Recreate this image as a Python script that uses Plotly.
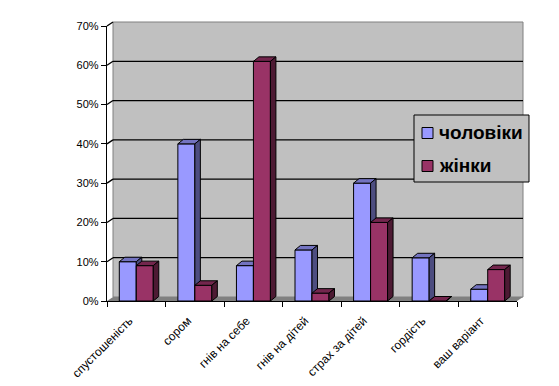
import plotly.graph_objects as go

categories = ["спустошеність", "сором", "гнів на себе", "гнів на дітей",
              "страх за дітей", "гордість", "ваш варіант"]
men = [0.10, 0.40, 0.09, 0.13, 0.30, 0.11, 0.03]
women = [0.09, 0.04, 0.61, 0.02, 0.20, 0.00, 0.08]
series_names = ["чоловіки", "жінки"]
y_ticks = [0.0, 0.1, 0.2, 0.3, 0.4, 0.5, 0.6, 0.7]

BLUE, BLUE_TOP, BLUE_SIDE = "#9999FF", "#7373C0", "#4D4D80"
RED, RED_TOP, RED_SIDE = "#993366", "#73264D", "#4D1A33"
WALL, FLOOR = "#C0C0C0", "#808080"

PAGE_OFF = 8                    # default body margin of the html page
W, H = 559 - PAGE_OFF, 386 - PAGE_OFF
L, R, T, B = 107 - PAGE_OFF, 42, 26 - PAGE_OFF, 85
PW, PH = W - L - R, H - T - B
YMAX = 0.7
N = len(categories)
bw = 0.29                       # bar width in category units
dxu = 5.5 / (PW / N)            # bar depth (x units)
dyu = 4.5 * YMAX / PH           # bar depth (y units)
wdx, wdy = 6 / PW, 4 / PH       # wall offset in paper units


def px(sx):   # screen x -> paper x
    return (sx - 107) / PW


def py(sy):   # screen y -> paper y
    return (301 - sy) / PH


def faces(vals, left_off):
    top_x, top_y, side_x, side_y = [], [], [], []
    for i, v in enumerate(vals):
        x0 = i + left_off
        x1 = x0 + bw
        top_x += [x0, x1, x1 + dxu, x0 + dxu, x0, None]
        top_y += [v, v, v + dyu, v + dyu, v, None]
        side_x += [x1, x1 + dxu, x1 + dxu, x1, x1, None]
        side_y += [0, dyu, v + dyu, v, 0, None]
    return top_x, top_y, side_x, side_y


fig = go.Figure()
fig.add_trace(go.Bar(x=categories, y=men, name=series_names[0], offset=-bw, width=bw,
                     marker=dict(color=BLUE, line=dict(color="black", width=1)),
                     xaxis="x", yaxis="y"))
tx, ty, sx, sy = faces(men, -bw)
for xs, ys, c in [(tx, ty, BLUE_TOP), (sx, sy, BLUE_SIDE)]:
    fig.add_trace(go.Scatter(x=xs, y=ys, fill="toself", fillcolor=c, mode="lines",
                             line=dict(color="black", width=1), showlegend=False,
                             hoverinfo="skip", xaxis="x2", yaxis="y2"))
fig.add_trace(go.Bar(x=list(range(N)), y=women, name=series_names[1], offset=0, width=bw,
                     marker=dict(color=RED, line=dict(color="black", width=1)),
                     xaxis="x3", yaxis="y3"))
tx, ty, sx, sy = faces(women, 0)
for xs, ys, c in [(tx, ty, RED_TOP), (sx, sy, RED_SIDE)]:
    fig.add_trace(go.Scatter(x=xs, y=ys, fill="toself", fillcolor=c, mode="lines",
                             line=dict(color="black", width=1), showlegend=False,
                             hoverinfo="skip", xaxis="x3", yaxis="y3"))

shapes = []
# back wall
shapes.append(dict(type="rect", xref="paper", yref="paper", x0=wdx, x1=1 + wdx,
                   y0=wdy, y1=1 + wdy, fillcolor=WALL, line=dict(color=FLOOR, width=1),
                   layer="below"))
# floor
shapes.append(dict(type="path", xref="paper", yref="paper",
                   path=f"M0,0 L1,0 L{1 + wdx},{wdy} L{wdx},{wdy} Z",
                   fillcolor=FLOOR, line=dict(width=0), layer="below"))
# gridlines on back wall + connectors on side wall
for v in y_ticks[1:-1]:
    yp = v / YMAX
    shapes.append(dict(type="line", xref="paper", yref="paper", x0=wdx, x1=1 + wdx,
                       y0=yp + wdy, y1=yp + wdy, line=dict(color="black", width=1.3),
                       layer="below"))
    shapes.append(dict(type="line", xref="paper", yref="paper", x0=0, x1=wdx,
                       y0=yp, y1=yp + wdy, line=dict(color="black", width=1.3),
                       layer="below"))
shapes.append(dict(type="line", xref="paper", yref="paper", x0=0, x1=wdx,
                   y0=1, y1=1 + wdy, line=dict(color="black", width=1.3), layer="below"))

# manual legend (box, swatches)
shapes.append(dict(type="rect", xref="paper", yref="paper", x0=px(414), x1=px(529),
                   y0=py(182), y1=py(115), fillcolor=WALL,
                   line=dict(color="black", width=1), layer="above"))
legend_rows = [(133, BLUE), (166, RED)]
annotations = []
for (cy, col), name in zip(legend_rows, series_names):
    shapes.append(dict(type="rect", xref="paper", yref="paper", x0=px(422), x1=px(433),
                       y0=py(cy + 5.5), y1=py(cy - 5.5), fillcolor=col,
                       line=dict(color="black", width=1), layer="above"))
    annotations.append(dict(xref="paper", yref="paper", x=px(437), y=py(cy),
                            xanchor="left", yanchor="middle", showarrow=False, text=name,
                            font=dict(family="Liberation Sans, Arial, sans-serif", size=19,
                                      color="black", weight="bold")))

font = dict(family="Liberation Sans, Arial, sans-serif", size=11, color="black")
xfont = dict(family="Liberation Sans, Arial, sans-serif", size=12, color="black")
fig.update_layout(
    width=W, height=H, margin=dict(l=L, r=R, t=T, b=B, autoexpand=False),
    paper_bgcolor="white", plot_bgcolor="rgba(0,0,0,0)",
    barmode="overlay", font=font, shapes=shapes, annotations=annotations,
    showlegend=False,
    xaxis=dict(type="category", categoryorder="array", categoryarray=categories,
               range=[-0.5, N - 0.5], showline=True, linecolor="black", linewidth=1.3,
               ticks="outside", tickson="boundaries", ticklen=5, tickcolor="black",
               tickwidth=1.3, tickangle=-45, showgrid=False, tickfont=xfont,
               ticklabelstandoff=7, ticklabelshift=-7, fixedrange=True),
    yaxis=dict(range=[0, YMAX], tickvals=y_ticks, tickformat=".0%", showline=True,
               linecolor="black", linewidth=1.3, ticks="outside", ticklen=5,
               tickcolor="black", tickwidth=1.3, showgrid=False, zeroline=False,
               tickfont=font, fixedrange=True),
    xaxis2=dict(overlaying="x", range=[-0.5, N - 0.5], visible=False),
    yaxis2=dict(overlaying="y", range=[0, YMAX], visible=False),
    xaxis3=dict(overlaying="x", range=[-0.5, N - 0.5], visible=False),
    yaxis3=dict(overlaying="y", range=[0, YMAX], visible=False),
)
fig.write_html("out.html")
